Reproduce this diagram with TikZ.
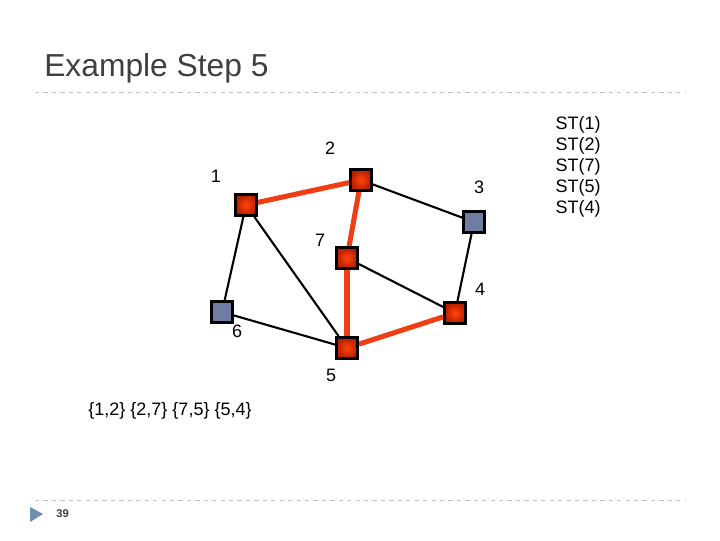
\documentclass[tikz,border=0pt]{standalone}
\usepackage{fontspec}
\setmainfont{Liberation Sans}
\usepackage{tikz}
\usetikzlibrary{calc,positioning,shadows,backgrounds}

\definecolor{vtxblue}{RGB}{112,124,162}
\definecolor{vtxred}{RGB}{255,70,10}
\definecolor{vtxdark}{RGB}{185,30,0}
\definecolor{treered}{RGB}{240,62,20}
\definecolor{rulegray}{RGB}{190,190,190}
\definecolor{titlegray}{RGB}{64,64,68}
\definecolor{bulletblue}{RGB}{110,140,180}

\tikzset{
  vtx/.style={draw=black, line width=2.1pt, minimum size=0.52cm, inner sep=0pt,
    drop shadow={shadow xshift=0.6pt, shadow yshift=-0.6pt, opacity=0.4}},
  vtxin/.style={vtx, shading=radial, inner color=vtxred, outer color=vtxdark},
  vtxout/.style={vtx, fill=vtxblue},
  tree/.style={treered, line width=3.6pt},
  edge/.style={black, line width=1.5pt},
  num/.style={font=\fontsize{12.8}{14.9}\selectfont, inner sep=0pt}
}

\begin{document}
\begin{tikzpicture}[x=0.025cm, y=-0.025cm]
    \useasboundingbox (0,0) rectangle (720,540);

    % slide frame
    \node[anchor=west, text=titlegray, font=\fontsize{22.6}{26}\selectfont, inner sep=0pt] (title) at (44,68) {Example Step 5};
    \draw[rulegray, dashed, line width=0.6pt] (35,92) -- (685,92);
    \draw[rulegray, dashed, line width=0.6pt] (35,500) -- (685,500);
    \fill[bulletblue] (30,507) -- (43,514) -- (30,522) -- cycle;
    \node[anchor=west, font=\bfseries\fontsize{8}{9}\selectfont, text=titlegray, inner sep=0pt] (page) at (56,514) {39};

    % vertices
    \node[vtxin] (v1) at (246,205) {};
    \node[vtxin] (v2) at (361,180) {};
    \node[vtxout] (v3) at (474,222) {};
    \node[vtxin] (v7) at (347,258) {};
    \node[vtxin] (v4) at (455,313) {};
    \node[vtxout] (v6) at (222,312) {};
    \node[vtxin] (v5) at (347,348) {};

    % edges
    \begin{scope}[on background layer]
    \draw[edge] (v2) -- (v3);
    \draw[edge] (v3) -- (v4);
    \draw[edge] (v1) -- (v6);
    \draw[edge] (v1) -- (v5);
    \draw[edge] (v6) -- (v5);
    \draw[edge] (v7) -- (v4);
    \draw[tree] (v1) -- (v2);
    \draw[tree] (v2) -- (v7);
    \draw[tree] (v7) -- (v5);
    \draw[tree] (v5) -- (v4);
    \end{scope}

    % vertex labels
    \node[num] (n1) at (216,176) {1};
    \node[num] (n2) at (330,148) {2};
    \node[num] (n3) at (479,187) {3};
    \node[num] (n7) at (320,240) {7};
    \node[num] (n4) at (480,289) {4};
    \node[num] (n6) at (237,331) {6};
    \node[num] (n5) at (331,375) {5};

    \node[num] (edges) at (170,411) {\{1,2\} \{2,7\} \{7,5\} \{5,4\}};
    \node[num, align=center] (sets) at (578,167) {ST(1)\\ST(2)\\ST(7)\\ST(5)\\ST(4)};
\end{tikzpicture}
\end{document}
